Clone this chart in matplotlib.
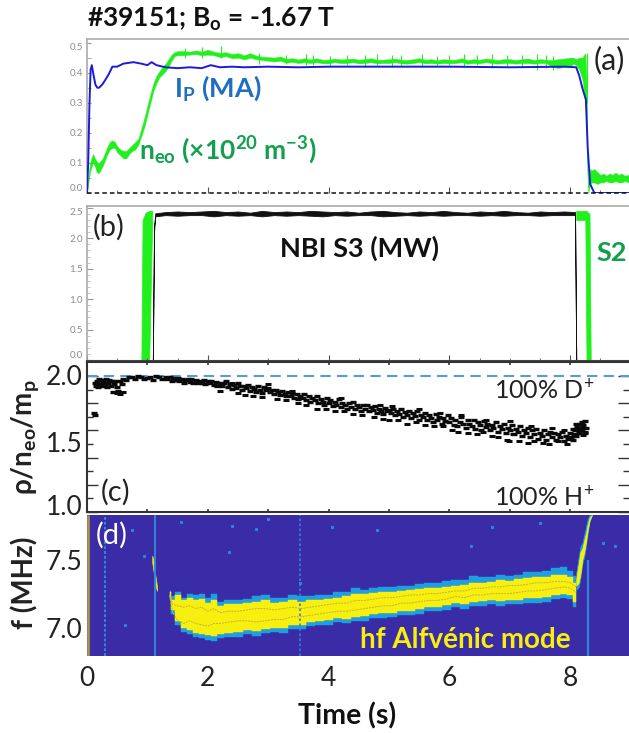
import matplotlib
matplotlib.use("Agg")
import matplotlib.pyplot as plt

plt.rcParams['font.family'] = ['Lato', 'DejaVu Sans']
plt.rcParams['mathtext.default'] = 'regular'

# (a) plasma current
ip_t = [0, .02, .04, .06, .08, .11, .14, .17, .2, .25,
        .3, .36, .42, .5, .6, .77, .9, 1.0, 1.07, 1.15,
        1.3, 1.5, 1.7, 1.9, 2.05, 2.2, 2.4, 2.6, 3.0, 3.5,
        4.0, 5.0, 6.0, 7.0, 7.9, 8.1, 8.15, 8.2, 8.26, 8.29,
        8.33, 8.4, 8.97]
ip_v = [0, .1, .29, .41, .425, .39, .36, .35, .35, .36,
        .375, .395, .42, .42, .43, .435, .43, .425, .435, .425,
        .418, .415, .418, .415, .425, .418, .42, .418, .42, .418,
        .42, .42, .42, .418, .42, .418, .39, .35, .31, .15,
        .03, 0, 0]

# (a) density, drawn as a noisy band
ne_t = [0, .02, .05, .08, .1, .13, .16, .19, .22, .26,
        .3, .34, .38, .42, .46, .5, .55, .6, .65, .7,
        .75, .8, .85, .9, .95, 1.0, 1.05, 1.1, 1.15, 1.2,
        1.25, 1.3, 1.35, 1.4, 1.45, 1.5, 1.6, 1.7, 1.8, 1.9,
        2.0, 2.1, 2.2, 2.3, 2.4, 2.5, 2.6, 2.7, 2.8, 2.9,
        3.0, 3.1, 3.2, 3.3, 3.4, 3.5, 3.6, 3.7, 3.8, 3.9,
        4.0, 4.1, 4.2, 4.3, 4.4, 4.5, 4.6, 4.7, 4.8, 4.9,
        5.0, 5.1, 5.2, 5.3, 5.4, 5.5, 5.6, 5.7, 5.8, 5.9,
        6.0, 6.1, 6.2, 6.3, 6.4, 6.5, 6.6, 6.7, 6.8, 6.9,
        7.0, 7.1, 7.2, 7.3, 7.4, 7.5, 7.6, 7.7, 7.8, 7.9,
        8.0, 8.05, 8.1, 8.15, 8.2, 8.25, 8.27, 8.28, 8.29, 8.3,
        8.31, 8.33, 8.36, 8.4, 8.45, 8.5, 8.55, 8.6, 8.65, 8.7,
        8.75, 8.8, 8.85, 8.9, 8.97]
ne_low = [0, .03, .07, .09, .1, .09, .07, .065, .075, .09,
          .11, .13, .145, .15, .15, .135, .125, .115, .115, .13,
          .14, .145, .16, .19, .22, .26, .3, .34, .365, .385,
          .395, .405, .42, .44, .455, .458, .458, .46, .462, .458,
          .46, .458, .452, .455, .448, .45, .444, .45, .445, .442,
          .44, .437, .44, .433, .436, .432, .435, .432, .435, .431,
          .431, .435, .432, .432, .435, .431, .432, .435, .431, .432,
          .432, .435, .431, .43, .432, .435, .431, .432, .43, .432,
          .431, .432, .435, .43, .432, .431, .435, .432, .43, .432,
          .432, .43, .432, .432, .43, .432, .432, .42, .415, .42,
          .42, .43, .425, .41, .38, .30, .20, .10, .03, 0,
          .01, .03, .035, .035, .03, .035, .035, .04, .035, .035,
          .04, .035, .035, .04, .035]
ne_high = [0, .05, .1, .12, .13, .115, .105, .1, .105, .115,
           .135, .155, .17, .175, .17, .155, .145, .14, .14, .15,
           .16, .17, .18, .215, .25, .29, .33, .365, .39, .405,
           .42, .43, .445, .46, .468, .472, .472, .47, .474, .47,
           .476, .47, .466, .468, .462, .465, .458, .465, .457, .453,
           .452, .45, .454, .446, .448, .444, .448, .444, .448, .443,
           .443, .447, .444, .445, .447, .443, .445, .448, .443, .443,
           .445, .447, .443, .442, .445, .448, .443, .445, .441, .445,
           .443, .443, .448, .442, .445, .443, .447, .445, .442, .445,
           .445, .442, .445, .447, .442, .445, .443, .442, .445, .447,
           .45, .45, .445, .45, .45, .465, .36, .22, .08, .02,
           .05, .08, .075, .08, .07, .06, .065, .058, .065, .06,
           .068, .06, .065, .058, .06]
ne_spike_t = [1.62, 1.9, 2.22, 2.85, 3.3, 3.62, 3.75, 4.02, 4.3, 4.6, 4.8,
              5.05, 5.2, 5.55, 5.8, 6.0, 6.25, 6.45, 6.7, 6.95, 7.2, 7.45, 7.6, 7.72, 8.28]
ne_spike_lo = [.45, .45, .45, .43, .43, .425, .425, .42, .425, .42, .425,
               .42, .425, .42, .425, .425, .42, .425, .415, .42, .42, .41, .415, .41, .3]
ne_spike_hi = [.482, .484, .488, .465, .46, .462, .458, .455, .46, .458, .462,
               .458, .46, .463, .455, .458, .462, .46, .462, .458, .46, .462, .458, .455, .467]

# (b) beam power
s3_t = [1.09, 1.11, 1.13, 1.3, 1.5, 1.7, 1.9, 2.1, 2.3, 2.5, 2.7, 2.9, 3.1, 3.3, 3.5, 3.7, 3.9,
        4.1, 4.3, 4.5, 4.7, 4.9, 5.1, 5.3, 5.5, 5.7, 5.9, 6.1, 6.3, 6.5, 6.7, 6.9,
        7.1, 7.3, 7.5, 7.7, 7.9, 8.08, 8.1]
s3_low = [0, 2.1, 2.36, 2.38, 2.37, 2.38, 2.38, 2.36, 2.38, 2.37, 2.38, 2.36, 2.38, 2.37, 2.38, 2.37, 2.36,
          2.38, 2.37, 2.38, 2.38, 2.36, 2.37, 2.38, 2.37, 2.38, 2.37, 2.38, 2.38, 2.37, 2.38, 2.37,
          2.38, 2.38, 2.37, 2.38, 2.38, 2.38, 0]
s3_high = [0, 2.2, 2.41, 2.43, 2.44, 2.43, 2.44, 2.45, 2.43, 2.44, 2.42, 2.45, 2.43, 2.44, 2.43, 2.45, 2.44,
           2.43, 2.44, 2.42, 2.44, 2.45, 2.43, 2.42, 2.44, 2.43, 2.45, 2.43, 2.42, 2.44, 2.43, 2.45,
           2.43, 2.42, 2.44, 2.43, 2.44, 2.43, 0]
s2_on_t = [.9, .92, .97, 1.03, 1.08]
s2_on_low = [0, 0, 0, 0, 2.3]
s2_on_high = [0, 2.3, 2.42, 2.45, 2.45]
s2_off_t = [8.1, 8.25, 8.27, 8.32, 8.34]
s2_off_low = [2.3, 2.3, 0, 0, 0]
s2_off_high = [2.45, 2.45, 2.45, 2.4, 0]

# (c) mass density ratio
rho_t = [.12, .13, .14, .15, .17, .19, .2, .22, .24, .25,
         .27, .29, .31, .33, .35, .37, .39, .41, .43, .45,
         .47, .5, .52, .55, .58, .6, .65, .7, .75, .8,
         .85, .9, .95, 1.0, 1.05, 1.1, 1.15, 1.2, 1.25, 1.3,
         1.33, 1.37, 1.4, 1.43, 1.47, 1.5, 1.53, 1.57, 1.6, 1.63,
         1.67, 1.7, 1.73, 1.76, 1.8, 1.83, 1.86, 1.9, 1.93, 1.96,
         2.0, 2.03, 2.06, 2.1, 2.13, 2.16, 2.2, 2.23, 2.26, 2.3,
         2.33, 2.37, 2.4, 2.43, 2.47, 2.5, 2.53, 2.57, 2.6, 2.63,
         2.67, 2.7, 2.73, 2.77, 2.8, 2.83, 2.87, 2.9, 2.93, 2.97,
         3.0, 3.03, 3.07, 3.1, 3.13, 3.17, 3.2, 3.23, 3.27, 3.3,
         3.33, 3.37, 3.4, 3.43, 3.47, 3.5, 3.53, 3.57, 3.6, 3.63,
         3.67, 3.7, 3.73, 3.77, 3.8, 3.83, 3.87, 3.9, 3.93, 3.97,
         4.0, 4.03, 4.07, 4.1, 4.13, 4.17, 4.2, 4.23, 4.27, 4.3,
         4.33, 4.37, 4.4, 4.43, 4.47, 4.5, 4.53, 4.57, 4.6, 4.63,
         4.67, 4.7, 4.73, 4.77, 4.8, 4.83, 4.87, 4.9, 4.93, 4.97,
         5.0, 5.03, 5.07, 5.1, 5.13, 5.17, 5.2, 5.23, 5.27, 5.3,
         5.33, 5.37, 5.4, 5.43, 5.47, 5.5, 5.53, 5.57, 5.6, 5.63,
         5.67, 5.7, 5.73, 5.77, 5.8, 5.83, 5.87, 5.9, 5.93, 5.97,
         6.0, 6.03, 6.07, 6.1, 6.13, 6.17, 6.2, 6.23, 6.27, 6.3,
         6.33, 6.37, 6.4, 6.43, 6.47, 6.5, 6.53, 6.57, 6.6, 6.63,
         6.67, 6.7, 6.73, 6.77, 6.8, 6.83, 6.87, 6.9, 6.93, 6.97,
         7.0, 7.03, 7.07, 7.1, 7.13, 7.17, 7.2, 7.23, 7.27, 7.3,
         7.33, 7.37, 7.4, 7.43, 7.47, 7.5, 7.53, 7.57, 7.6, 7.63,
         7.67, 7.7, 7.73, 7.77, 7.8, 7.83, 7.87, 7.9, 7.93, 7.97,
         8.0, 8.02, 8.04, 8.06, 8.08, 8.1, 8.12, 8.14, 8.16, 8.18,
         8.2, 8.22, 8.24, 8.26, 8.05, 8.15, 8.1, 8.2, 8.24, 8.12]
rho_v = [1.73, 1.71, 1.95, 1.93, 1.96, 1.92, 1.98, 1.94, 1.97, 1.93,
         1.96, 1.94, 1.98, 1.92, 1.95, 1.97, 1.93, 1.96, 1.88, 1.94,
         1.96, 1.92, 1.89, 1.96, 1.94, 1.98, 1.97, 1.99, 1.99, 1.98,
         2.0, 1.99, 1.98, 1.985, 1.99, 1.97, 2.0, 1.99, 1.98, 1.99,
         1.975, 1.99, 1.96, 1.985, 1.97, 1.985, 1.96, 1.98, 1.95, 1.97,
         1.98, 1.955, 1.975, 1.95, 1.97, 1.945, 1.965, 1.95, 1.97, 1.94,
         1.965, 1.945, 1.96, 1.935, 1.955, 1.93, 1.95, 1.925, 1.945, 1.96,
         1.92, 1.94, 1.905, 1.935, 1.915, 1.95, 1.925, 1.9, 1.93, 1.91,
         1.935, 1.89, 1.92, 1.905, 1.88, 1.93, 1.9, 1.875, 1.92, 1.895,
         1.91, 1.885, 1.9, 1.87, 1.895, 1.88, 1.86, 1.89, 1.865, 1.85,
         1.88, 1.855, 1.875, 1.84, 1.865, 1.83, 1.855, 1.84, 1.87, 1.825,
         1.85, 1.81, 1.84, 1.82, 1.85, 1.8, 1.83, 1.81, 1.79, 1.835,
         1.8, 1.82, 1.78, 1.81, 1.79, 1.83, 1.77, 1.805, 1.785, 1.76,
         1.8, 1.775, 1.81, 1.76, 1.79, 1.77, 1.745, 1.785, 1.76, 1.79,
         1.74, 1.77, 1.75, 1.78, 1.73, 1.76, 1.74, 1.72, 1.765, 1.745,
         1.75, 1.725, 1.76, 1.71, 1.74, 1.72, 1.755, 1.7, 1.735, 1.715,
         1.745, 1.69, 1.725, 1.705, 1.74, 1.68, 1.715, 1.695, 1.73, 1.675,
         1.71, 1.69, 1.66, 1.72, 1.68, 1.7, 1.65, 1.69, 1.67, 1.71,
         1.66, 1.69, 1.64, 1.68, 1.63, 1.665, 1.7, 1.645, 1.62, 1.675,
         1.65, 1.63, 1.68, 1.61, 1.66, 1.64, 1.6, 1.67, 1.625, 1.65,
         1.6, 1.64, 1.62, 1.66, 1.59, 1.63, 1.61, 1.65, 1.58, 1.62,
         1.6, 1.64, 1.57, 1.61, 1.59, 1.63, 1.56, 1.6, 1.58, 1.62,
         1.55, 1.6, 1.57, 1.61, 1.54, 1.58, 1.56, 1.6, 1.53, 1.57,
         1.59, 1.55, 1.58, 1.53, 1.57, 1.55, 1.59, 1.52, 1.56, 1.54,
         1.58, 1.55, 1.53, 1.57, 1.6, 1.56, 1.63, 1.6, 1.65, 1.62,
         1.66, 1.64, 1.67, 1.62, 1.61, 1.58, 1.65, 1.6, 1.58, 1.61]
# stray points off the main cloud
stray_t = [.5, .54, .6, 2.2, 2.5, 2.62, 2.75, 2.9, 3.15, 3.3,
           3.5, 3.62, 3.8, 3.95, 4.1, 4.25, 4.4, 4.55, 4.75, 4.9,
           5.0, 5.15, 5.3, 5.45, 5.6, 5.75, 5.9, 6.05, 6.15, 6.3,
           6.45, 6.55, 6.7, 6.8, 6.95, 7.05, 7.15, 7.3, 7.4, 7.55,
           7.65, 7.8, 7.95, 8.22, 8.25, 3.0, 4.2, 5.5, 6.2, 7.0,
           6.98, 7.35, 7.7, 5.05, 4.85, 3.4, 2.4, 6.6, 5.85, 7.9]
stray_v = [1.875, 1.87, 1.88, 1.89, 1.875, 1.86, 1.85, 1.845, 1.83, 1.82,
           1.8, 1.79, 1.76, 1.755, 1.74, 1.74, 1.72, 1.71, 1.7, 1.685,
           1.68, 1.675, 1.65, 1.665, 1.64, 1.63, 1.63, 1.6, 1.59, 1.58,
           1.57, 1.59, 1.56, 1.55, 1.53, 1.57, 1.52, 1.51, 1.52, 1.51,
           1.5, 1.52, 1.5, 1.565, 1.585, 1.94, 1.84, 1.76, 1.71, 1.67,
           1.52, 1.63, 1.62, 1.78, 1.79, 1.89, 1.95, 1.68, 1.73, 1.6]
rho_ticks = [1.0, 1.2, 1.4, 1.6, 1.8, 2.0]
rho_minor = [1.1, 1.3, 1.5, 1.7, 1.9]
rho_labels = [1.0, 1.5, 2.0]
rho_label_shift = [3, 0, -1]

# (d) spectrogram edges of the mode
mode_t = [1.37, 1.42, 1.5, 1.6, 1.7, 1.8, 1.9, 2.0, 2.1, 2.2,
          2.35, 2.5, 2.65, 2.8, 2.95, 3.1, 3.25, 3.4, 3.55, 3.7,
          3.85, 4.0, 4.15, 4.3, 4.45, 4.6, 4.75, 4.9, 5.05, 5.2,
          5.35, 5.5, 5.65, 5.8, 5.95, 6.1, 6.25, 6.4, 6.55, 6.7,
          6.85, 7.0, 7.15, 7.3, 7.45, 7.6, 7.75, 7.9, 8.0, 8.1]
outer_low = [7.2, 7.1, 7.02, 6.97, 6.95, 6.93, 6.92, 6.91, 6.9, 6.92,
             6.93, 6.93, 6.95, 6.94, 6.96, 6.97, 6.96, 6.99, 6.99, 7.01,
             7.02, 7.02, 7.04, 7.03, 7.05, 7.05, 7.07, 7.07, 7.08, 7.09,
             7.09, 7.1, 7.12, 7.12, 7.13, 7.15, 7.14, 7.16, 7.16, 7.17,
             7.16, 7.17, 7.17, 7.18, 7.18, 7.19, 7.21, 7.22, 7.21, 7.15]
outer_high = [7.27, 7.23, 7.26, 7.22, 7.25, 7.24, 7.25, 7.22, 7.25, 7.19,
              7.2, 7.2, 7.21, 7.23, 7.24, 7.22, 7.22, 7.24, 7.23, 7.23,
              7.24, 7.24, 7.26, 7.26, 7.29, 7.28, 7.29, 7.3, 7.3, 7.31,
              7.31, 7.32, 7.33, 7.33, 7.34, 7.35, 7.35, 7.38, 7.37, 7.37,
              7.39, 7.38, 7.39, 7.41, 7.41, 7.42, 7.44, 7.45, 7.42, 7.38]
yellow_low = [7.22, 7.13, 7.05, 7.0, 6.98, 6.96, 6.95, 6.945, 6.94, 6.95,
              6.96, 6.965, 6.98, 6.975, 6.99, 7.0, 6.995, 7.02, 7.02, 7.04,
              7.05, 7.055, 7.07, 7.065, 7.08, 7.085, 7.1, 7.105, 7.11, 7.125,
              7.125, 7.135, 7.15, 7.155, 7.165, 7.18, 7.175, 7.19, 7.195, 7.2,
              7.195, 7.205, 7.205, 7.215, 7.215, 7.225, 7.24, 7.25, 7.24, 7.19]
yellow_high = [7.26, 7.2, 7.24, 7.2, 7.22, 7.2, 7.21, 7.18, 7.2, 7.16,
               7.17, 7.17, 7.18, 7.19, 7.2, 7.18, 7.19, 7.2, 7.19, 7.2,
               7.205, 7.21, 7.22, 7.23, 7.25, 7.245, 7.255, 7.26, 7.265, 7.27,
               7.275, 7.285, 7.29, 7.295, 7.3, 7.31, 7.315, 7.33, 7.33, 7.335,
               7.35, 7.345, 7.355, 7.365, 7.37, 7.375, 7.385, 7.39, 7.37, 7.33]
trace_a = [7.24, 7.17, 7.16, 7.15, 7.16, 7.14, 7.15, 7.12, 7.14, 7.11,
           7.12, 7.12, 7.13, 7.14, 7.14, 7.13, 7.14, 7.15, 7.14, 7.15,
           7.16, 7.17, 7.18, 7.18, 7.2, 7.2, 7.21, 7.22, 7.22, 7.23,
           7.24, 7.24, 7.25, 7.25, 7.26, 7.27, 7.27, 7.29, 7.29, 7.3,
           7.3, 7.31, 7.31, 7.32, 7.33, 7.33, 7.34, 7.34, 7.33, 7.3]
trace_b = [7.23, 7.11, 7.05, 7.03, 7.05, 7.03, 7.02, 7.01, 7.03, 7.03,
           7.04, 7.05, 7.05, 7.04, 7.05, 7.06, 7.06, 7.08, 7.08, 7.09,
           7.1, 7.11, 7.12, 7.12, 7.13, 7.14, 7.15, 7.16, 7.16, 7.18,
           7.18, 7.19, 7.2, 7.2, 7.21, 7.23, 7.22, 7.24, 7.24, 7.25,
           7.25, 7.25, 7.26, 7.27, 7.27, 7.28, 7.29, 7.3, 7.29, 7.26]

chirp_t = [8.1, 8.14, 8.17, 8.2, 8.23, 8.26, 8.29, 8.32, 8.36]
chirp_low = [7.28, 7.3, 7.37, 7.47, 7.52, 7.6, 7.7, 7.78, 7.83]
chirp_high = [7.4, 7.52, 7.6, 7.62, 7.68, 7.74, 7.8, 7.83, 7.83]
chirp_in_low = [7.31, 7.33, 7.4, 7.5, 7.55, 7.63, 7.72, 7.79, 7.83]
chirp_in_high = [7.36, 7.47, 7.56, 7.58, 7.64, 7.69, 7.76, 7.81, 7.83]

early_t = [1.08, 1.1, 1.12, 1.14, 1.16]
early_low = [7.48, 7.42, 7.36, 7.3, 7.27]
early_high = [7.53, 7.5, 7.42, 7.36, 7.3]

speck_t = [.75, .95, 1.55, 2.4, 2.8, 3.0, 2.35, 4.05, 4.8, 6.35, 6.7, 7.5, 8.55, 8.75, 3.53, .63]
speck_f = [7.72, 7.53, 7.78, 7.75, 7.73, 7.8, 7.56, 7.74, 7.72, 7.6, 7.74, 7.77, 7.62, 7.6, 7.33, 7.02]

t_end = (629 - 87) / 60.4
fig = plt.figure(figsize=(6.29, 7.33), dpi=100)


def panel(top, bottom):
    # axes placed in image pixels
    return fig.add_axes([87 / 629, 1 - bottom / 733, 542 / 629, (bottom - top) / 733])


# panel a
ax = panel(39, 193)
ax.fill_between(ne_t, ne_low, ne_high, color='#22F01E', lw=0.3, zorder=3)
ax.vlines(ne_spike_t, ne_spike_lo, ne_spike_hi, color='#22F01E', lw=0.8, zorder=3)
ax.plot(ip_t, ip_v, color='#1C1CD8', lw=1.4, zorder=4)
ax.axhline(0, color='#111111', lw=1.1, ls=(0, (3, 2)), zorder=5, clip_on=False)
ax.set_xlim(0, t_end)
ax.set_ylim(0, .512)
ax.set_yticks([0, .1, .2, .3, .4, .5])
ax.set_yticks([.05, .15, .25, .35, .45], minor=True)
ax.set_yticklabels(['0.0', '0.1', '0.2', '0.3', '0.4', '0.5'])
ax.set_xticks([0, 2, 4, 6, 8])
ax.set_xticks([.5, 1, 1.5, 2.5, 3, 3.5, 4.5, 5, 5.5, 6.5, 7, 7.5, 8.5], minor=True)
ax.tick_params(axis='y', which='both', direction='in', labelsize=7, labelcolor='#8c8c8c', color='#999999', pad=3, length=3)
ax.tick_params(axis='x', which='major', direction='in', length=4, color='#555555', labelbottom=False)
ax.tick_params(axis='x', which='minor', direction='in', length=2, color='#555555')
ax.get_yticklabels()[0].set_va('bottom')
ax.get_yticklabels()[-1].set_va('top')
for s in ['right', 'bottom']:
    ax.spines[s].set_visible(False)
for s in ['top', 'left']:
    ax.spines[s].set_color('#aaaaaa')
    ax.spines[s].set_linewidth(1.2)
ax.patch.set_alpha(0)

# panel b
ax = panel(206, 361)
ax.fill_between(s2_on_t, s2_on_low, s2_on_high, color='#22F01E', lw=0.5)
ax.fill_between(s2_off_t, s2_off_low, s2_off_high, color='#22F01E', lw=0.5)
ax.fill_between(s3_t, s3_low, s3_high, color='#111111', lw=0.6)
ax.set_xlim(0, t_end)
ax.set_ylim(-.016, 2.53)
ax.set_yticks([0, .5, 1, 1.5, 2, 2.5])
ax.set_yticks([.1, .2, .3, .4, .6, .7, .8, .9, 1.1, 1.2, 1.3, 1.4, 1.6, 1.7, 1.8, 1.9, 2.1, 2.2, 2.3, 2.4], minor=True)
ax.set_yticklabels(['0.0', '0.5', '1.0', '1.5', '2.0', '2.5'])
ax.set_xticks([0, 2, 4, 6, 8])
ax.set_xticks([.5, 1, 1.5, 2.5, 3, 3.5, 4.5, 5, 5.5, 6.5, 7, 7.5, 8.5], minor=True)
ax.tick_params(axis='y', which='major', direction='in', labelsize=7, labelcolor='#8c8c8c', color='#999999', pad=3, length=4)
ax.tick_params(axis='y', which='minor', direction='in', color='#bbbbbb', length=2)
ax.tick_params(axis='x', which='major', direction='in', length=4, color='#555555', labelbottom=False)
ax.tick_params(axis='x', which='minor', direction='in', length=2, color='#555555')
ax.get_yticklabels()[0].set_va('bottom')
ax.get_yticklabels()[-1].set_va('top')
ax.spines['right'].set_visible(False)
ax.spines['bottom'].set_color('#444444')
ax.spines['bottom'].set_linewidth(1.5)
for s in ['top', 'left']:
    ax.spines[s].set_color('#aaaaaa')
    ax.spines[s].set_linewidth(1.2)

# panel c
ax = panel(362, 512)
ax.axhline(2.0, color='#5B9BD5', lw=1.5, ls=(0, (5, 3)))
ax.plot(rho_t, rho_v, ls='none', marker='_', ms=5, mew=2.4, color='#0a0a0a')
ax.plot(stray_t, stray_v, ls='none', marker='_', ms=5, mew=2.2, color='#0a0a0a')
ax.set_xlim(0, t_end)
ax.set_ylim(1.0, 2.103)
ax.set_yticks(rho_ticks)
ax.set_yticks(rho_minor, minor=True)
ax.set_xticks([0, 1, 2, 3, 4, 5, 6, 7, 8])
ax.tick_params(axis='both', which='both', direction='in', labelleft=False, labelbottom=False, color='#333333')
ax.tick_params(axis='y', which='major', left=True, right=True, length=8, width=1)
ax.tick_params(axis='y', which='minor', left=True, right=True, length=4, width=1)
ax.tick_params(axis='x', which='major', top=True, bottom=True, length=2.5, width=1.2)
for v, shift in zip(rho_labels, rho_label_shift):
    ax.annotate(f'{v:.1f}', (0, v), xycoords=('axes fraction', 'data'), xytext=(-3, shift),
                textcoords='offset points', ha='right', va='center', fontsize=19, color='#222222')
for s in ['top', 'bottom', 'left']:
    ax.spines[s].set_color('#333333')
    ax.spines[s].set_linewidth(1.5)
ax.spines['right'].set_visible(False)

# panel d
ax = panel(515, 656)
ax.set_facecolor('#3A2BA6')
ax.vlines([.02], 6.79, 7.83, color='#A8914A', lw=2)
ax.vlines([.3], 6.79, 7.83, color='#2F86DA', lw=1.4, ls=(0, (1.5, 1)))
ax.vlines([1.12], 6.79, 7.83, color='#2F86DA', lw=1.4)
ax.vlines([3.53], 6.79, 7.83, color='#2F86DA', lw=1.2, ls=(0, (1.5, 1.5)))
ax.vlines([8.3], 6.79, 7.5, color='#2F86DA', lw=1.6)
ax.fill_between(mode_t, outer_low, outer_high, step='mid', color='#1F9FE0', lw=0.3)
ax.fill_between(mode_t, yellow_low, yellow_high, step='mid', color='#F7F00E', lw=0.3)
ax.plot(mode_t, trace_a, color='#C9AE3A', lw=0.7, ls=(0, (2, 1)))
ax.plot(mode_t, trace_b, color='#C9AE3A', lw=0.7, ls=(0, (2, 1)))
ax.fill_between(chirp_t, chirp_low, chirp_high, color='#1F9FE0', lw=0.5)
ax.fill_between(chirp_t, chirp_in_low, chirp_in_high, color='#F7F00E', lw=0.5)
ax.fill_between(early_t, early_low, early_high, color='#F0E020', lw=0.5)
ax.plot(speck_t, speck_f, ls='none', marker='s', ms=1.2, color='#2F86DA')
ax.set_xlim(0, t_end)
ax.set_ylim(6.79, 7.83)
ax.set_xticks([0, 2, 4, 6, 8])
ax.set_yticks([7.0, 7.5])
ax.set_yticklabels(['7.0', '7.5'])
ax.tick_params(axis='both', length=0, labelsize=19, labelcolor='#222222')
ax.tick_params(axis='x', pad=7)
ax.tick_params(axis='y', pad=3)
for s in ax.spines.values():
    s.set_visible(False)
ax.set_xlabel('Time (s)', fontsize=20.5, fontweight='bold', color='#111111')
ax.xaxis.set_label_coords((347 - 87) / 542, -.33)


def label(x, y, s, **kw):
    # figure text at image pixels
    fig.text(x / 629, 1 - y / 733, s, va='center', **kw)


label(87, 19, '#39151; B$_{o}$ = -1.67 T', fontsize=19, fontweight='bold', color='#111111')
label(594, 60, '(a)', fontsize=22, color='#222222')
label(174, 88, 'I$_{P}$ (MA)', fontsize=19.5, fontweight='bold', color='#1F6FC0')
label(139, 150, 'n$_{eo}$ (×10$^{20}$ m$^{-3}$)', fontsize=19, fontweight='bold', color='#12A04F')
label(93, 227, '(b)', fontsize=21, color='#222222')
label(280, 248, 'NBI S3 (MW)', fontsize=19.5, fontweight='bold', color='#111111')
label(596, 253, 'S2', fontsize=19.5, fontweight='bold', color='#12A04F')
label(101, 492, '(c)', fontsize=21, color='#222222')
label(494, 390, '100% D$^{+}$', fontsize=18, color='#222222')
label(494, 497, '100% H$^{+}$', fontsize=18, color='#222222')
label(96, 535, '(d)', fontsize=21, color='white')
label(360, 640, 'hf Alfvénic mode', fontsize=20, fontweight='bold', color='#F7F00E')
fig.text(25 / 629, 1 - 437 / 733, 'ρ/n$_{eo}$/m$_{p}$', rotation=90, ha='center', va='center',
         fontsize=20, fontweight='bold', color='#222222')
fig.text(25 / 629, 1 - 583 / 733, 'f (MHz)', rotation=90, ha='center', va='center',
         fontsize=20, fontweight='bold', color='#222222')

fig.savefig('out.png', dpi=100)
